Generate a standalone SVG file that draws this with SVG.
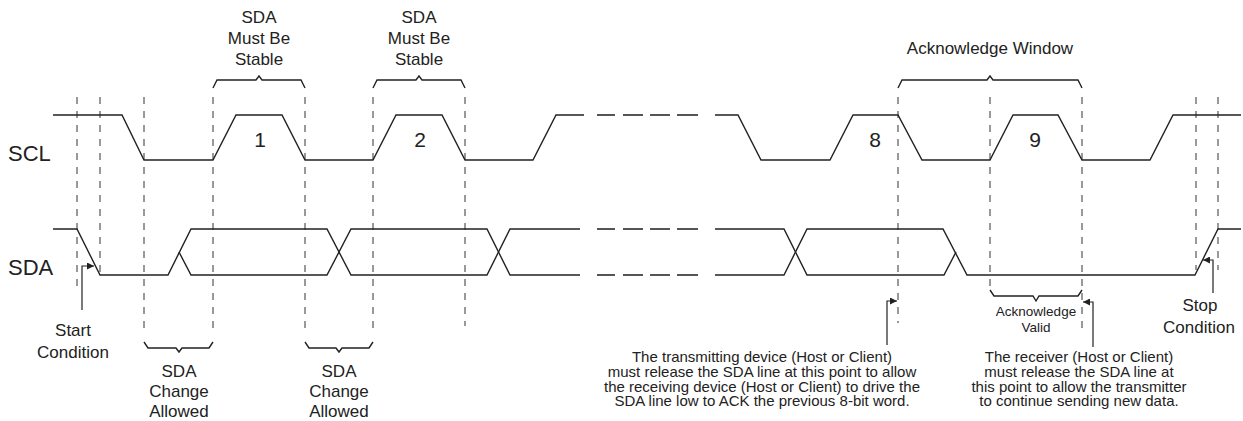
<svg xmlns="http://www.w3.org/2000/svg" width="1243" height="421" viewBox="0 0 1243 421">
<defs>
<style>
.sig{fill:none;stroke:#222;stroke-width:1.4;stroke-linejoin:miter}
.gap{fill:none;stroke:#555;stroke-width:1.8}
.guide{fill:none;stroke:#333;stroke-width:1;stroke-dasharray:7 7}
.brace{fill:none;stroke:#222;stroke-width:1.4}
.ptr{fill:none;stroke:#222;stroke-width:1.2}
text{font-family:"Liberation Sans",Arial,sans-serif;fill:#222;text-anchor:middle}
.sigl{font-size:22px;text-anchor:start}
.num{font-size:21px}
.lbl{font-size:17px}
.note{font-size:15px}
.small{font-size:13.5px}
</style>
<marker id="ah" viewBox="0 0 10 10" refX="10" refY="5" markerWidth="7" markerHeight="7" markerUnits="userSpaceOnUse" orient="auto">
<path d="M0,0 L10,5 L0,10 z" fill="#222"/>
</marker>
</defs>
<rect width="1243" height="421" fill="#fff"/>

<g id="guides">
<line class="guide" x1="77" y1="97" x2="77" y2="292"/>
<line class="guide" x1="100" y1="97" x2="100" y2="277"/>
<line class="guide" x1="144" y1="97" x2="144" y2="333"/>
<line class="guide" x1="213" y1="97" x2="213" y2="333"/>
<line class="guide" x1="305" y1="97" x2="305" y2="333"/>
<line class="guide" x1="373" y1="97" x2="373" y2="333"/>
<line class="guide" x1="465" y1="97" x2="465" y2="326"/>
<line class="guide" x1="898" y1="97" x2="898" y2="323"/>
<line class="guide" x1="990" y1="97" x2="990" y2="288"/>
<line class="guide" x1="1082" y1="97" x2="1082" y2="333"/>
<line class="guide" x1="1196" y1="97" x2="1196" y2="270"/>
<line class="guide" x1="1218" y1="97" x2="1218" y2="270"/>
</g>

<g id="scl">
<text class="sigl" x="8" y="161">SCL</text>
<path class="sig" d="M53,115 H122 L144,160 H213 L236,115 H282 L305,160 H373 L396,115 H442 L465,160 H533 L556,115 H584"/>
<path class="gap" d="M597,115 H615 M623,115 H643 M650,115 H670 M677,115 H698"/>
<path class="sig" d="M715,115 H738 L761,160 H830 L853,115 H898 L922,160 H990 L1013,115 H1058 L1082,160 H1150 L1173,115 H1241"/>
<text class="num" x="260" y="147">1</text>
<text class="num" x="420" y="147">2</text>
<text class="num" x="875" y="147">8</text>
<text class="num" x="1035" y="147">9</text>
</g>

<g id="sda">
<text class="sigl" x="8" y="275">SDA</text>
<path class="sig" d="M53,229 H77 L100,275 H168 L191,229 H327 L351,275 H487 L510,229 H580"/>
<path class="sig" d="M179,252 L191,275 H327 L351,229 H487 L510,275 H580"/>
<path class="gap" d="M597,229 H615 M623,229 H643 M650,229 H670 M677,229 H698 M597,275 H615 M623,275 H643 M650,275 H670 M677,275 H698"/>
<path class="sig" d="M715,229 H784 L807,275 H944 L956,252"/>
<path class="sig" d="M715,275 H784 L807,229 H943 L967,275 H1195 L1218,229 H1241"/>
</g>

<g id="stable1">
<path class="brace" d="M213,88 L217,80 H256 L259,76 L262,80 H301 L305,88"/>
<text class="lbl" x="259" y="23">SDA</text>
<text class="lbl" x="259" y="44">Must Be</text>
<text class="lbl" x="259" y="65">Stable</text>
</g>

<g id="stable2">
<path class="brace" d="M373,88 L377,80 H416 L419,76 L422,80 H461 L465,88"/>
<text class="lbl" x="419" y="23">SDA</text>
<text class="lbl" x="419" y="44">Must Be</text>
<text class="lbl" x="419" y="65">Stable</text>
</g>

<g id="ackwindow">
<path class="brace" d="M898,88 L902,80 H987 L990,76 L993,80 H1078 L1082,88"/>
<text class="lbl" x="990" y="54">Acknowledge Window</text>
</g>

<g id="change1">
<path class="brace" d="M144,342 L148,348 H176 L179,352 L182,348 H209 L213,342"/>
<text class="lbl" x="179" y="377">SDA</text>
<text class="lbl" x="179" y="397">Change</text>
<text class="lbl" x="179" y="417">Allowed</text>
</g>

<g id="change2">
<path class="brace" d="M305,342 L309,348 H336 L339,352 L342,348 H369 L373,342"/>
<text class="lbl" x="339" y="377">SDA</text>
<text class="lbl" x="339" y="397">Change</text>
<text class="lbl" x="339" y="417">Allowed</text>
</g>

<g id="ackvalid">
<path class="brace" d="M990,290 L994,296 H1033 L1036,301 L1039,296 H1078 L1082,290"/>
<text class="small" x="1036" y="316">Acknowledge</text>
<text class="small" x="1036" y="332">Valid</text>
</g>

<g id="start">
<text class="lbl" x="73" y="336">Start</text>
<text class="lbl" x="73" y="358">Condition</text>
</g>

<g id="stop">
<text class="lbl" x="1200" y="311">Stop</text>
<text class="lbl" x="1199" y="333">Condition</text>
</g>

<g id="transmitnote">
<text class="note" x="762" y="362">The transmitting device (Host or Client)</text>
<text class="note" x="762" y="377">must release the SDA line at this point to allow</text>
<text class="note" x="762" y="391.5">the receiving device (Host or Client) to drive the</text>
<text class="note" x="762" y="406">SDA line low to ACK the previous 8-bit word.</text>
</g>

<g id="receivernote">
<text class="note" x="1079" y="362">The receiver (Host or Client)</text>
<text class="note" x="1079" y="377">must release the SDA line at</text>
<text class="note" x="1079" y="391.5">this point to allow the transmitter</text>
<text class="note" x="1079" y="406">to continue sending new data.</text>
</g>

<g id="connectors">
<path class="ptr" d="M82,310 V266 H94" marker-end="url(#ah)"/>
<path class="ptr" d="M887,345 V301 H897" marker-end="url(#ah)"/>
<path class="ptr" d="M1093,347 V302 H1083" marker-end="url(#ah)"/>
<path class="ptr" d="M1213,293 V260 H1203" marker-end="url(#ah)"/>
</g>
</svg>
